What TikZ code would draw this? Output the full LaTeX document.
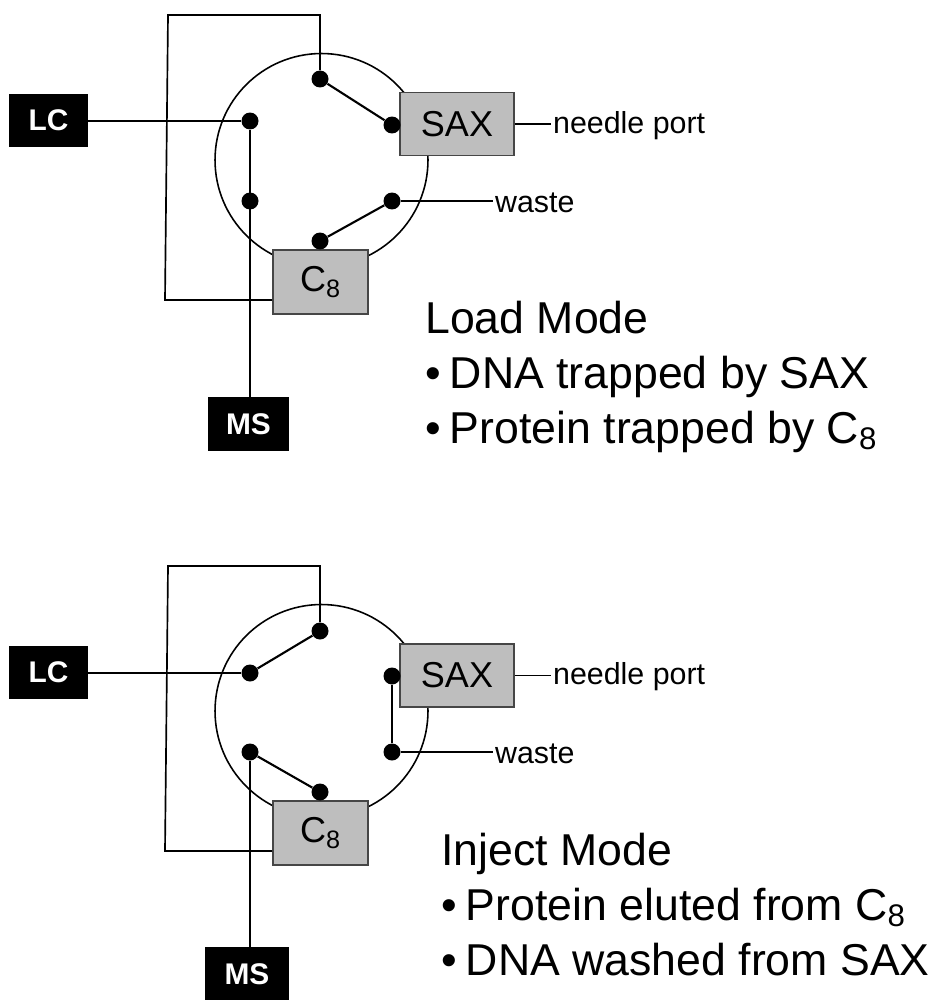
\documentclass[tikz,border=0pt]{standalone}
\usepackage{fontspec}
\setmainfont{Liberation Sans}
\usetikzlibrary{positioning}
\definecolor{colgray}{RGB}{190,190,190}
\definecolor{coledge}{RGB}{70,70,70}
\newcommand{\itembullet}{\textbullet\kern0.2em}
\tikzset{
  valve/.style={draw,circle,line width=0.9pt,minimum size=4.26cm,inner sep=0},
  port/.style={circle,fill=black,inner sep=0,minimum size=0.34cm},
  column/.style={draw=coledge,fill=colgray,line width=1.1pt,inner sep=0,font=\fontsize{20.5}{24}\selectfont},
  instr/.style={fill=black,text=white,inner sep=0,font=\fontsize{17}{20}\selectfont\bfseries},
  pipe/.style={line width=0.95pt},
  switch/.style={line width=1.2pt},
  outlabel/.style={inner sep=1pt,font=\fontsize{17.3}{20}\selectfont},
  caption/.style={anchor=base west,inner sep=0,font=\fontsize{25.4}{30}\selectfont}
}

\begin{document}
\begin{tikzpicture}[x=0.02cm,y=-0.02cm]
  \useasboundingbox (0,0) rectangle (942,1000);
  % load mode
  \node[valve] (valveA) at (321.5,160) {};
  \node[column,minimum width=2.28cm,minimum height=1.26cm] (saxA) at (457,124) {SAX};
  \node[column,minimum width=1.9cm,minimum height=1.28cm] (ceA) at (320.5,282) {C\textsubscript{8}};
  \node[instr,minimum width=1.58cm,minimum height=1.06cm] (lcA) at (48.5,120.5) {LC};
  \node[instr,minimum width=1.62cm,minimum height=1.08cm] (msA) at (248.5,424) {MS};
  \node[port] (p1A) at (320,79) {};
  \node[port] (p2A) at (392,125) {};
  \node[port] (p3A) at (392,201) {};
  \node[port] (p4A) at (320,241) {};
  \node[port] (p5A) at (250,201) {};
  \node[port] (p6A) at (250,121) {};
  \node[outlabel,anchor=west] (needleA) at (551,126) {needle port};
  \node[outlabel,anchor=west] (wasteA) at (493,203) {waste};
  \coordinate (topA) at (320,15);
  \coordinate (cornerA) at (168,15);
  \coordinate (lowA) at (165,300);
  \draw[pipe] (p1A) -- (topA) -- (cornerA) -- (lowA) -- (lowA -| ceA.west);
  \draw[pipe] (p6A) -- (p6A -| lcA.east);
  \draw[pipe] (p6A) -- (p6A |- msA.north);
  \draw[pipe] (saxA.east) -- (saxA.east -| needleA.west);
  \draw[pipe] (p3A) -- (p3A -| wasteA.west);
  \draw[switch] (p1A) -- (p2A);
  \draw[switch] (p3A) -- (p4A);
  \draw[switch] (p5A) -- (p6A);
  \node[caption] (modeA) at (425,333) {Load Mode};
  \node[caption] (lineA) at (425,388) {\itembullet DNA trapped by SAX};
  \node[caption] (lineB) at (425,443) {\itembullet Protein trapped by C\textsubscript{8}};
  % inject mode
  \node[valve] (valveB) at (321.5,711) {};
  \node[column,minimum width=2.28cm,minimum height=1.26cm] (saxB) at (457,675.5) {SAX};
  \node[column,minimum width=1.9cm,minimum height=1.28cm] (ceB) at (320.5,833) {C\textsubscript{8}};
  \node[instr,minimum width=1.58cm,minimum height=1.06cm] (lcB) at (48.5,672) {LC};
  \node[instr,minimum width=1.68cm,minimum height=1.08cm] (msB) at (247,974) {MS};
  \node[port] (p1B) at (320,631) {};
  \node[port] (p2B) at (392,676) {};
  \node[port] (p3B) at (392,752) {};
  \node[port] (p4B) at (320,792) {};
  \node[port] (p5B) at (250,752) {};
  \node[port] (p6B) at (250,673) {};
  \node[outlabel,anchor=west] (needleB) at (551,677) {needle port};
  \node[outlabel,anchor=west] (wasteB) at (493,754) {waste};
  \coordinate (topB) at (320,566);
  \coordinate (cornerB) at (168,566);
  \coordinate (lowB) at (165,851);
  \draw[pipe] (p1B) -- (topB) -- (cornerB) -- (lowB) -- (lowB -| ceB.west);
  \draw[pipe] (p6B) -- (p6B -| lcB.east);
  \draw[pipe] (p5B) -- (p5B |- msB.north);
  \draw[pipe] (saxB.east) -- (saxB.east -| needleB.west);
  \draw[pipe] (p3B) -- (p3B -| wasteB.west);
  \draw[switch] (p1B) -- (p6B);
  \draw[switch] (p2B) -- (p3B);
  \draw[switch] (p5B) -- (p4B);
  \node[caption] (modeB) at (441,865) {Inject Mode};
  \node[caption] (lineC) at (441,920) {\itembullet Protein eluted from C\textsubscript{8}};
  \node[caption] (lineD) at (441,975) {\itembullet DNA washed from SAX};
\end{tikzpicture}
\end{document}
